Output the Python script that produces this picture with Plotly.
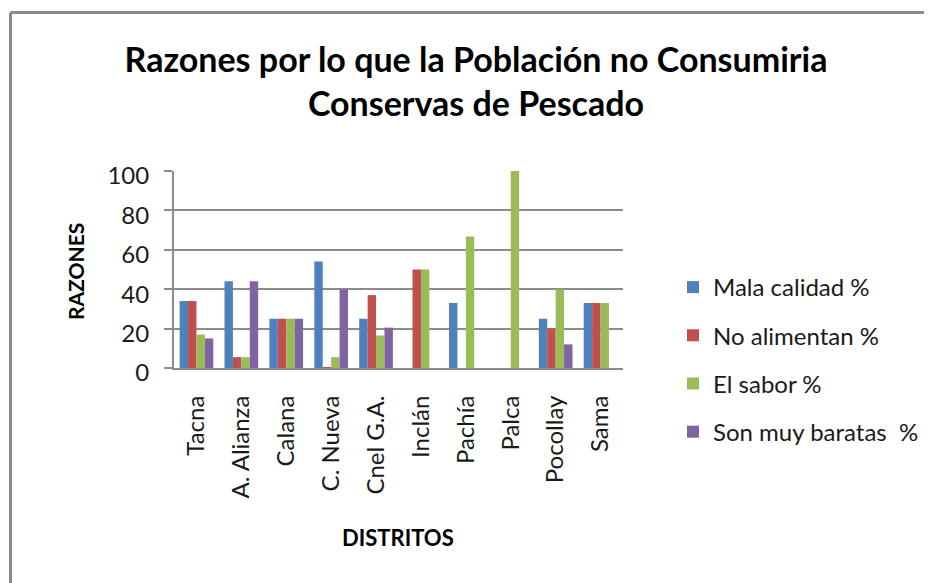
import plotly.graph_objects as go

distritos = ["Tacna", "A. Alianza", "Calana", "C. Nueva", "Cnel G.A.",
             "Inclán", "Pachía", "Palca", "Pocollay", "Sama"]
mala_calidad = [34, 44, 25, 54, 25, 0, 33, 0, 25, 33]
no_alimentan = [34, 5.5, 25, 0.5, 37, 50, 0, 0, 20, 33]
el_sabor = [17, 5.5, 25, 5.5, 16.5, 50, 66.7, 100, 40, 33]
son_baratas = [15, 44, 25, 40, 20.5, 0, 0, 0, 12, 0]

series_names = ["Mala calidad %", "No alimentan %", "El sabor %", "Son muy baratas  %"]
series_values = [mala_calidad, no_alimentan, el_sabor, son_baratas]
series_colors = ["#4F81BD", "#C0504D", "#9BBB59", "#8064A2"]
y_ticks = [0, 20, 40, 60, 80, 100]

W, H = 932, 583
OFF = 8  # page offset of the figure inside the browser window
# plot area in page pixels
P_LEFT, P_TOP, PW, PH = 174, 171, 449, 197
ML = P_LEFT - OFF
MT = P_TOP - OFF
MR = W - ML - PW
MB = H - MT - PH

FONT = "Lato, 'Open Sans', sans-serif"
TFONT = "Lato, 'Open Sans', sans-serif"
GRID = "#8c8c8c"


def px_x(px):
    return (px - OFF - ML) / PW


def px_y(py):
    return (MT + PH - (py - OFF)) / PH


fig = go.Figure()
for i, (name, vals, col) in enumerate(zip(series_names, series_values, series_colors)):
    fig.add_trace(go.Bar(
        x=distritos, y=vals, name=name, legendgroup=f"g{i}",
        marker=dict(color=col, line=dict(width=0)),
    ))

shapes = [
    dict(type="line", xref="paper", yref="paper",
         x0=px_x(10.5), x1=px_x(W + 20), y0=px_y(12.5), y1=px_y(12.5),
         line=dict(color="#8a8a8a", width=3)),
    dict(type="line", xref="paper", yref="paper",
         x0=px_x(10.5), x1=px_x(10.5), y0=px_y(12.5), y1=px_y(H + 20),
         line=dict(color="#8a8a8a", width=3)),
]

fig.update_layout(
    width=W, height=H,
    margin=dict(l=ML, r=MR, t=MT, b=MB, autoexpand=False),
    paper_bgcolor="white", plot_bgcolor="white",
    barmode="group", bargap=0.25, bargroupgap=0.0,
    font=dict(family=FONT, color="#1a1a1a", size=24),
    title=dict(
        text="Razones por lo que la Población no Consumiria<br>Conservas de Pescado",
        x=(476 - OFF) / W, xanchor="center", xref="container",
        y=1 - (72 - OFF) / H, yanchor="top", yref="container",
        font=dict(family=TFONT, size=34, color="#000000", weight="bold"),
    ),
    xaxis=dict(
        showline=True, linecolor=GRID, linewidth=2,
        showgrid=False, ticks="", tickangle=-90,
        tickfont=dict(size=24, family=FONT, color="#1a1a1a"),
        ticklabelstandoff=16,
    ),
    yaxis=dict(
        range=[0, 100], tickvals=y_ticks,
        showline=True, linecolor=GRID, linewidth=2,
        showgrid=True, gridcolor=GRID, gridwidth=2,
        ticks="outside", ticklen=8, tickcolor=GRID, tickwidth=2,
        tickfont=dict(size=24, family=FONT, color="#1a1a1a"),
        ticklabelstandoff=10, ticklabelshift=5,
        zeroline=False,
    ),
    legend=dict(
        x=px_x(673), xanchor="left", y=px_y(265), yanchor="top",
        font=dict(size=24, family=FONT, color="#1a1a1a"),
        tracegroupgap=14, bgcolor="rgba(0,0,0,0)", maxheight=500,
    ),
    annotations=[
        dict(text="<b>RAZONES</b>", xref="paper", yref="paper",
             x=px_x(75), y=px_y(272), textangle=-90, showarrow=False,
             xanchor="center", yanchor="middle",
             font=dict(size=21, family=FONT, color="#000000")),
        dict(text="<b>DISTRITOS</b>", xref="paper", yref="paper",
             x=px_x(398), y=px_y(537), showarrow=False,
             xanchor="center", yanchor="middle",
             font=dict(size=22, family=FONT, color="#000000")),
    ],
    shapes=shapes,
)

fig.write_html("out.html")
